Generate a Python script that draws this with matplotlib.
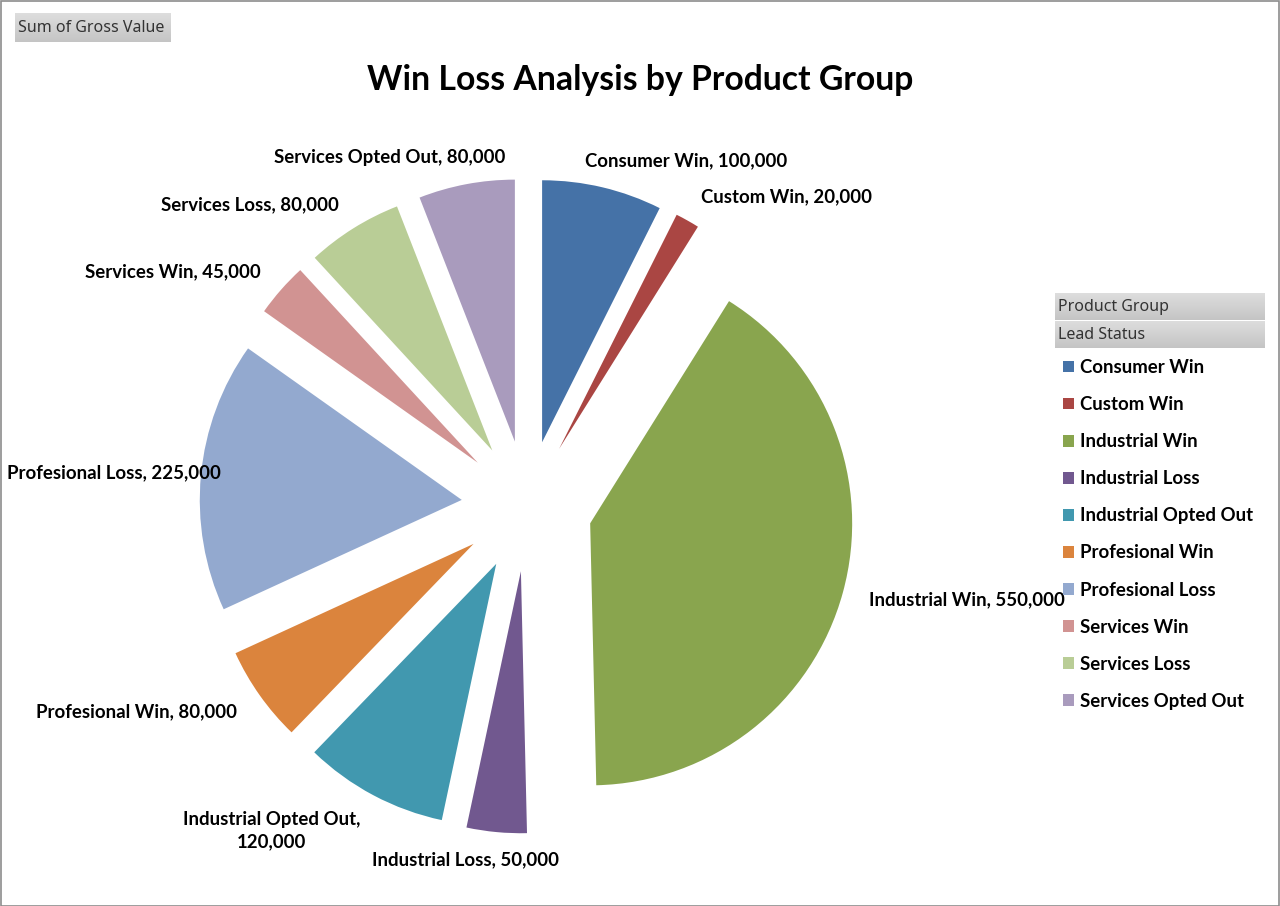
import numpy as np
import matplotlib
matplotlib.use("Agg")
import matplotlib.pyplot as plt
from matplotlib.patches import Rectangle

# ---- data ----
categories = ["Consumer Win", "Custom Win", "Industrial Win", "Industrial Loss",
              "Industrial Opted Out", "Profesional Win", "Profesional Loss",
              "Services Win", "Services Loss", "Services Opted Out"]
values = [100000, 20000, 550000, 50000, 120000, 80000, 225000, 45000, 80000, 80000]
colors = ["#4572A7", "#AA4643", "#89A54E", "#71588F", "#4198AF",
          "#DB843D", "#93A9CF", "#D19392", "#B9CD96", "#A99BBD"]
title = "Win Loss Analysis by Product Group"
field_buttons = ["Product Group", "Lead Status"]
value_button = "Sum of Gross Value"
wrapped_labels = {"Industrial Opted Out"}

W, H = 1280, 906
FONT = ["Lato", "DejaVu Sans"]
BTN_FONT = ["Noto Sans", "DejaVu Sans"]
LBL_SIZE = 13.4

fig = plt.figure(figsize=(W / 100, H / 100), dpi=100)
fig.patch.set_facecolor("white")

ax = fig.add_axes([0, 0, 1, 1])

cx, cy, r = 527, H - 506, 262
explode = [0.25 * r] * len(values)
wedges, _ = ax.pie(values, colors=colors, startangle=90, counterclock=False,
                   explode=explode, radius=r, center=(cx, cy),
                   wedgeprops=dict(linewidth=0), frame=True)
ax.set_xlim(0, W)
ax.set_ylim(0, H)
ax.set_aspect("equal")
ax.axis("off")

# data labels
fig.canvas.draw()
renderer = fig.canvas.get_renderer()
probe = ax.text(0, 0, "Ag", fontsize=LBL_SIZE, fontweight="bold", family=FONT)
h1 = probe.get_window_extent(renderer).height
probe.remove()
for w, name, val in zip(wedges, categories, values):
    mid = np.deg2rad((w.theta1 + w.theta2) / 2)
    dx, dy = np.cos(mid), np.sin(mid)
    lx = cx + 1.355 * r * dx
    ly = cy + 1.355 * r * dy
    sep = ",\n" if name in wrapped_labels else ", "
    txt = f"{name}{sep}{val:,}"
    t = ax.text(lx, ly, txt, ha="left", va="center", fontsize=LBL_SIZE,
                fontweight="bold", family=FONT, multialignment="center",
                linespacing=1.35, color="black")
    bb = t.get_window_extent(renderer)
    f = 0.5 - 0.5 * np.clip(dx / 0.3, -1, 1)
    x0 = max(lx - f * bb.width, 7)  # keep label inside the chart area
    t.set_x(x0)
    # taller (wrapped) labels grow away from the pie
    t.set_y(ly + np.sign(dy) * 0.5 * (bb.height - h1))

# title
fig.text(640 / W, 1 - 80 / H, title, ha="center", va="center",
         fontsize=24.3, fontweight="bold", family=FONT)

# grey pivot buttons
def button(x0, y0, w, h, label, size):
    bax = fig.add_axes([x0 / W, 1 - (y0 + h) / H, w / W, h / H])
    grad = np.linspace(0.87, 0.77, 50).reshape(-1, 1)
    bax.imshow(np.dstack([grad, grad, grad]), aspect="auto",
               extent=[0, 1, 0, 1], origin="upper")
    bax.set_xlim(0, 1)
    bax.set_ylim(0, 1)
    bax.axis("off")
    bax.text(3 / w, 0.47, label, ha="left", va="center", fontsize=size,
             family=BTN_FONT, color="#333333")
    return bax

button(15, 13, 156, 29, value_button, 11.5)
for i, lab in enumerate(field_buttons):
    button(1055, 293 + i * 28, 210, 27, lab, 11.5)

# legend
leg = fig.legend(wedges, categories, loc="upper left",
                 bbox_to_anchor=(1063 / W, 1 - 359 / H),
                 frameon=False, prop=dict(family=FONT, weight="bold", size=LBL_SIZE),
                 handlelength=0.6, handleheight=0.6, handletextpad=0.33,
                 labelspacing=1.08, borderaxespad=0, borderpad=0)

# outer border
fig.patches.append(Rectangle((0.5 / W, 0.5 / H), 1 - 1.5 / W, 1 - 1.5 / H,
                             transform=fig.transFigure, fill=False,
                             edgecolor="#8c8c8c", linewidth=1.2))

fig.savefig("out.png", dpi=100)
